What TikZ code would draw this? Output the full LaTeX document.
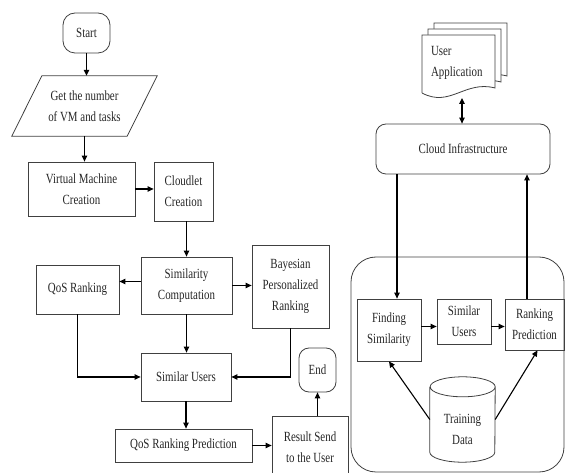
\documentclass[tikz,border=0pt]{standalone}
\usepackage{fontspec}
\setmainfont{Liberation Serif}[FakeStretch=0.78]
\usepackage{tikz}
\usetikzlibrary{shapes,arrows.meta,positioning,calc}

\begin{document}
\begin{tikzpicture}[x=1pt,y=-1pt,font=\fontsize{14}{21}\selectfont,
  >={Triangle[length=6pt,width=5.5pt]},
  box/.style={draw=black!75,line width=0.8pt,align=center,inner sep=2pt,text=black!85},
  term/.style={box,rounded corners=12pt},
  edge/.style={draw=black!75,line width=0.8pt},
  arr/.style={->,line width=1.1pt}]
  \useasboundingbox (0,0) rectangle (566,473);

  % left flow
  \node[term,minimum width=47,minimum height=40] (start) at (86.5,33) {Start};
  \node[align=center,inner sep=0pt,minimum width=115,minimum height=60,text=black!85] (input) at (84.5,106) {Get the number\\of VM and tasks};
  \draw[edge] ([xshift=15pt]input.north west) -- ([xshift=15pt]input.north east) -- ([xshift=-15pt]input.south east) -- ([xshift=-15pt]input.south west) -- cycle;
  \node[box,minimum width=107,minimum height=54] (vm) at (81.5,189) {Virtual Machine\\Creation};
  \node[box,minimum width=59,minimum height=59] (cloudlet) at (183.5,191.5) {Cloudlet\\Creation};
  \node[box,minimum width=91,minimum height=57] (simcomp) at (186.5,285.5) {Similarity\\Computation};
  \node[box,minimum width=83,minimum height=49] (qosrank) at (77.5,289.5) {QoS Ranking};
  \node[box,minimum width=77,minimum height=83] (bayes) at (290.5,286.5) {Bayesian\\Personalized\\Ranking};
  \node[box,minimum width=90,minimum height=48] (simusers) at (186,377) {Similar Users};
  \node[box,minimum width=137,minimum height=33] (qospred) at (183.5,445.5) {QoS Ranking Prediction};
  \node[box,minimum width=76,minimum height=62,anchor=north] (result) at (310,416) {Result Send\\to the User};
  \node[term,rounded corners=10pt,minimum width=37,minimum height=44] (end) at (317.5,370) {End};

  \draw[arr] (start) -- (start |- input.north);
  \draw[arr] (input.south) -- (input.south |- vm.north);
  \draw[arr] (vm.east) -- (vm.east -| cloudlet.west);
  \draw[arr] (simcomp.north |- cloudlet.south) -- (simcomp.north);
  \draw[arr] ([yshift=4pt]simcomp.west) -- ([yshift=4pt]simcomp.west -| qosrank.east);
  \draw[arr] (simcomp.east) -- (simcomp.east -| bayes.west);
  \draw[arr] (simcomp.south) -- (simcomp.south |- simusers.north);
  \draw[arr] (qosrank.south) |- (simusers.west);
  \draw[arr] (bayes.south) |- (simusers.east);
  \draw[arr] (simusers.south) -- (simusers.south |- qospred.north);
  \draw[arr] (qospred.east) -- (qospred.east -| result.west);
  \draw[arr] (end.south |- result.north) -- (end.south);

  % right side
  \foreach \d in {12,6,0}{
    \draw[edge,fill=white] ({422+\d},{93-\d}) -- ({422+\d},{35-\d}) -- ({495+\d},{35-\d}) -- ({495+\d},{88-\d})
      .. controls ({465+\d},{80-\d}) and ({450+\d},{108-\d}) .. ({422+\d},{93-\d});
  }
  \node[text width=62pt,align=left,inner sep=0pt,text=black!85] (userapp) at (462,63) {User\\Application};
  \coordinate (docbot) at (462,98);
  \node[box,rounded corners=10pt,minimum width=174,minimum height=50] (cloud) at (463,149) {Cloud Infrastructure};
  \node[draw=black!75,line width=0.8pt,rounded corners=25pt,minimum width=213,minimum height=215] (engine) at (457.5,364.5) {};
  \node[box,minimum width=64,minimum height=62] (fsim) at (389,330) {Finding\\Similarity};
  \node[box,minimum width=54,minimum height=45] (susers) at (464,321.5) {Similar\\Users};
  \node[box,minimum width=59,minimum height=51] (rpred) at (534.5,324.5) {Ranking\\Prediction};
  \node[minimum width=65,minimum height=85,inner sep=0pt] (tdata) at (462.5,419.5) {};
  \draw[edge] ([yshift=-10pt]tdata.north west) -- ([yshift=10pt]tdata.south west)
    arc[start angle=180,end angle=360,x radius=32.5pt,y radius=10pt]
    -- ([yshift=-10pt]tdata.north east)
    arc[start angle=0,end angle=360,x radius=32.5pt,y radius=10pt];
  \node[align=center,text=black!85] (tdatatext) at ([yshift=-10pt]tdata.center) {Training\\Data};

  \draw[<->,line width=1.1pt] (docbot) -- (docbot |- cloud.north);
  \draw[arr] ([xshift=8pt]fsim.north |- cloud.south) -- ([xshift=8pt]fsim.north);
  \draw[arr] ([yshift=-5pt]susers.west -| fsim.east) -- ([yshift=-5pt]susers.west);
  \draw[arr] ([yshift=-5pt]susers.east) -- ([yshift=-5pt]susers.east -| rpred.west);
  \draw[arr] ([xshift=-7.5pt]rpred.north) -- ([xshift=-7.5pt]rpred.north |- cloud.south);
  \draw[arr] (tdata.west) -- (fsim.south);
  \draw[arr] (tdata.east) -- ([xshift=3pt]rpred.south);
\end{tikzpicture}
\end{document}
